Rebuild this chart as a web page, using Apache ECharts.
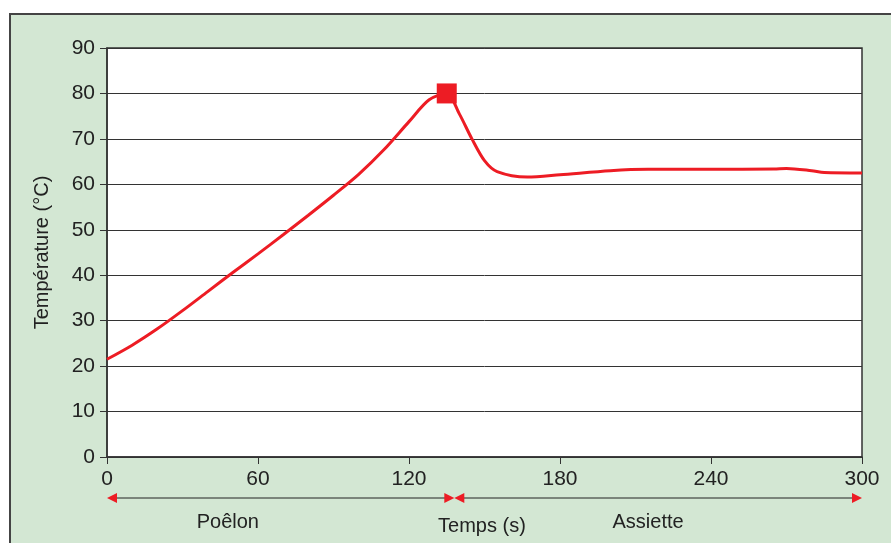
<!DOCTYPE html>
<html>
<head>
<meta charset="utf-8">
<script src="https://cdn.jsdelivr.net/npm/echarts@6/dist/echarts.min.js"></script>
<style>
  html, body { margin: 0; padding: 0; background: #fff; }
  #chart { width: 891px; height: 543px; }
</style>
</head>
<body>
<div id="chart"></div>
<script>
// temps (s) et température (°C)
var temps = [0, 10, 20, 30, 40, 50, 60, 70, 80, 90, 100, 110, 120, 128, 135, 140, 145, 150, 155, 167, 180, 200, 215, 240, 265, 270, 280, 285, 300];
var temperature = [21.5, 24.6, 28.2, 32.2, 36.4, 40.6, 44.7, 48.9, 53.2, 57.6, 62.2, 67.6, 73.8, 78.6, 80, 75.5, 70.0, 65.2, 62.8, 61.6, 62.1, 63.0, 63.3, 63.3, 63.4, 63.5, 63.0, 62.6, 62.5];
var pic = [135, 80];
var xTicks = [0, 60, 120, 180, 240, 300];
var yTicks = [0, 10, 20, 30, 40, 50, 60, 70, 80, 90];
// phases sous l'axe (bornes et position du libellé, en secondes)
var phases = [
  { nom: 'Poêlon', debut: 0, fin: 138, libelle: 48 },
  { nom: 'Assiette', debut: 138, fin: 300, libelle: 215 }
];
var axeTemps = { nom: 'Temps (s)', position: 149 };

var rouge = '#ed1c24';
var fond = '#d3e7d3';
var police = '"Liberation Sans", Arial, sans-serif';

var myChart = echarts.init(document.getElementById('chart'));

myChart.setOption({
  animation: false,
  backgroundColor: '#fff',
  textStyle: { fontFamily: police },
  grid: {
    left: 107, right: 29, top: 48, bottom: 86,
    show: true, backgroundColor: '#fff', borderColor: '#333', borderWidth: 1.5
  },
  xAxis: {
    type: 'value', min: xTicks[0], max: xTicks[xTicks.length - 1], interval: 60,
    axisLine: { show: true, lineStyle: { color: '#333', width: 1.5 } },
    axisTick: { show: true, length: 7, lineStyle: { color: '#333' } },
    axisLabel: { color: '#222', fontSize: 21, margin: 12, fontFamily: police },
    splitLine: { show: false }
  },
  yAxis: {
    type: 'value', min: yTicks[0], max: yTicks[yTicks.length - 1], interval: 10,
    name: 'Température (°C)', nameLocation: 'middle', nameGap: 55,
    nameTextStyle: { color: '#222', fontSize: 20, fontFamily: police },
    axisLine: { show: true, lineStyle: { color: '#333', width: 1.5 } },
    axisTick: { show: true, length: 7, lineStyle: { color: '#333' } },
    axisLabel: { color: '#222', fontSize: 21, margin: 12, fontFamily: police },
    splitLine: { show: true, lineStyle: { color: '#333', width: 1 } }
  },
  series: [
    {
      type: 'line',
      data: temps.map(function (t, i) { return [t, temperature[i]]; }),
      smooth: 0.3,
      showSymbol: false,
      lineStyle: { color: rouge, width: 3 },
      z: 3
    },
    {
      type: 'scatter',
      data: [pic],
      symbol: 'rect',
      symbolSize: 20,
      itemStyle: { color: rouge, opacity: 1 },
      z: 4
    }
  ]
});

// panneau vert, flèches et libellés sous l'axe
var yFleche = 498;
var enPixel = function (v) { return myChart.convertToPixel({ xAxisIndex: 0 }, v); };
var graphics = [{
  type: 'rect', z: -10, silent: true,
  shape: { x: 10, y: 14, width: 900, height: 560 },
  style: { fill: fond, stroke: '#444', lineWidth: 2 }
}];
phases.forEach(function (p) {
  var x1 = enPixel(p.debut);
  var x2 = enPixel(p.fin);
  graphics.push({
    type: 'line', z: 5,
    shape: { x1: x1 + 4, y1: yFleche, x2: x2 - 4, y2: yFleche },
    style: { stroke: '#222', lineWidth: 1 }
  });
  graphics.push({
    type: 'polygon', z: 6,
    shape: { points: [[x1, yFleche], [x1 + 10, yFleche - 5], [x1 + 10, yFleche + 5]] },
    style: { fill: rouge }
  });
  graphics.push({
    type: 'polygon', z: 6,
    shape: { points: [[x2, yFleche], [x2 - 10, yFleche - 5], [x2 - 10, yFleche + 5]] },
    style: { fill: rouge }
  });
  graphics.push({
    type: 'text', z: 6,
    x: enPixel(p.libelle), y: 522,
    style: { text: p.nom, fill: '#222', font: '20px ' + police, align: 'center', verticalAlign: 'middle' }
  });
});
graphics.push({
  type: 'text', z: 6,
  x: enPixel(axeTemps.position), y: 526,
  style: { text: axeTemps.nom, fill: '#222', font: '20px ' + police, align: 'center', verticalAlign: 'middle' }
});
myChart.setOption({ graphic: graphics });
</script>
</body>
</html>
